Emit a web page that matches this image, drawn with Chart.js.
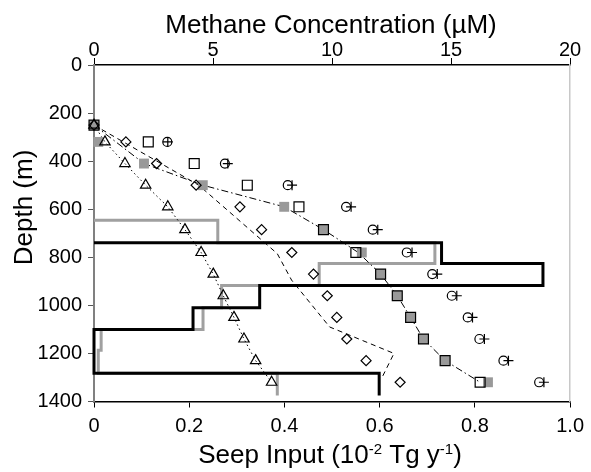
<!DOCTYPE html>
<html>
<head>
<meta charset="utf-8">
<script src="https://cdn.jsdelivr.net/npm/chart.js@4/dist/chart.umd.min.js"></script>
<style>
  html, body { margin: 0; padding: 0; background: #fff; }
</style>
</head>
<body>
<canvas id="myChart" width="591" height="472"></canvas>
<script>
// sample depths (m) shared by all profile series
const depths = [250, 320, 410, 500, 590, 685, 780, 870, 960, 1050, 1140, 1230, 1320];

// methane concentration profiles (uM)
const triangleConc   = [0, 0.46, 1.30, 2.17, 3.10, 3.82, 4.50, 5.01, 5.43, 5.88, 6.30, 6.79, 7.46];
const diamondConc    = [0, 1.34, 2.63, 4.29, 6.13, 7.04, 8.31, 9.22, 9.80, 10.20, 10.62, 11.43, 12.86];
const openSquareConc = [0, 2.28, 4.21, 6.44, 8.61, 9.64, 11.00, 12.04, 12.74, 13.30, 13.84, 14.75, 16.22];
const greySquareConc = [0, 0.18, 2.10, 4.57, 7.99, 9.64, 11.25, 12.04, 12.74, 13.30, 13.84, 14.75, 16.55];
const circleConc     = [null, 3.08, 5.50, 8.14, 10.59, 11.71, 13.14, 14.21, 15.03, 15.70, 16.19, 17.20, 18.70];
const plusConc       = [null, 3.10, 5.62, 8.32, 10.80, 11.92, 13.36, 14.42, 15.24, 15.90, 16.40, 17.41, 18.90];

// model curves
const dashedDepth = [250, 500, 785, 895, 1090, 1200, 1300];
const dashedConc  = [0, 4.4, 7.7, 8.3, 9.9, 12.6, 12.1];
const dashDotDepth = [250, 410, 500, 590, 685, 780, 870, 960, 1050, 1140, 1230, 1320];
const dashDotConc  = [0, 2.10, 4.57, 7.99, 9.64, 11.10, 12.04, 12.74, 13.30, 13.84, 14.75, 16.22];

// seep input steps (1e-2 Tg/yr)
const blackStepDepth = [740, 740, 826, 826, 917, 917, 1010, 1010, 1100, 1100, 1282, 1282, 1375];
const blackStepSeep  = [0, 0.73, 0.73, 0.943, 0.943, 0.348, 0.348, 0.208, 0.208, 0, 0, 0.599, 0.599];
const greyStepDepth = [646, 646, 740, 740, 826, 826, 917, 917, 1010, 1010, 1100, 1100, 1187, 1187, 1282, 1282, 1375];
const greyStepSeep  = [0, 0.26, 0.26, 0.716, 0.716, 0.473, 0.473, 0.268, 0.268, 0.229, 0.229, 0.015, 0.015, 0.009, 0.009, 0.385, 0.385];

// tick labels
const depthTicks = ['0', '200', '400', '600', '800', '1000', '1200', '1400'];
const concTicks = ['0', '5', '10', '15', '20'];
const seepTicks = ['0', '0.2', '0.4', '0.6', '0.8', '1.0'];

const FONT = '"Liberation Sans", Arial, sans-serif';

const pts = (xs, ys) => xs.map((x, i) => ({ x, y: ys[i] })).filter(p => p.x !== null);

const markers = (label, conc, style, extra) => Object.assign({
  label,
  data: pts(conc, depths),
  xAxisID: 'x',
  yAxisID: 'y',
  pointStyle: style,
  showLine: false,
  clip: false,
  pointBorderColor: '#000',
  pointBackgroundColor: 'rgba(0,0,0,0)',
  pointBorderWidth: 1.2
}, extra);

const curve = (label, conc, d, dash, extra) => Object.assign({
  label,
  data: pts(conc, d),
  xAxisID: 'x',
  yAxisID: 'y',
  showLine: true,
  pointRadius: 0,
  borderColor: '#000',
  borderWidth: 1,
  borderDash: dash,
  clip: false,
  order: 6
}, extra);

const titles = {
  id: 'titles',
  afterDraw(chart) {
    const ctx = chart.ctx;
    ctx.save();
    ctx.fillStyle = '#000';
    ctx.textBaseline = 'alphabetic';

    ctx.font = '26px ' + FONT;
    ctx.textAlign = 'center';
    ctx.fillText('Methane Concentration (\u00b5M)', 331, 33);

    ctx.save();
    ctx.translate(32, 207.5);
    ctx.rotate(-Math.PI / 2);
    ctx.fillText('Depth (m)', 0, 0);
    ctx.restore();

    // bottom title with superscripts
    const parts = [
      ['Seep Input (10', 26, 0], ['-2', 15, -9], [' Tg y', 26, 0], ['-1', 15, -9], [')', 26, 0]
    ];
    let total = 0;
    parts.forEach(p => { ctx.font = p[1] + 'px ' + FONT; p.push(ctx.measureText(p[0]).width); total += p[3]; });
    let x = 330 - total / 2;
    ctx.textAlign = 'left';
    parts.forEach(p => {
      ctx.font = p[1] + 'px ' + FONT;
      ctx.fillText(p[0], x, 463 + p[2]);
      x += p[3];
    });
    ctx.restore();
  }
};

const chart = new Chart(document.getElementById('myChart').getContext('2d'), {
  type: 'scatter',
  data: {
    datasets: [
      markers('plus', plusConc, 'cross', { pointRadius: 5, order: 1 }),
      markers('circles', circleConc, 'circle', { pointRadius: 4.5, order: 2 }),
      markers('diamonds', diamondConc, 'rectRot', { pointRadius: 5, order: 1 }),
      markers('triangles', triangleConc, 'triangle', { pointRadius: 6, order: 2 }),
      markers('open squares', openSquareConc, 'rect', { pointRadius: 7, order: 3 }),
      markers('grey squares', greySquareConc, 'rect', {
        pointRadius: 7, order: 4, pointBackgroundColor: '#999999', pointBorderWidth: 0
      }),
      curve('triangle line', triangleConc, depths, [1.5, 3]),
      curve('dashed line', dashedConc, dashedDepth, [5, 4]),
      curve('dash-dot line', dashDotConc, dashDotDepth, [7, 3, 1.5, 3]),
      {
        label: 'seep black',
        data: pts(blackStepSeep, blackStepDepth),
        xAxisID: 'xs', yAxisID: 'y',
        showLine: true, pointRadius: 0,
        borderColor: '#000', borderWidth: 3,
        borderJoinStyle: 'miter', clip: false, order: 7
      },
      {
        label: 'seep grey',
        data: pts(greyStepSeep, greyStepDepth),
        xAxisID: 'xs', yAxisID: 'y',
        showLine: true, pointRadius: 0,
        borderColor: '#a0a0a0', borderWidth: 3,
        borderJoinStyle: 'miter', clip: false, order: 8
      }
    ]
  },
  options: {
    responsive: false,
    devicePixelRatio: 1,
    animation: false,
    layout: { padding: { left: 0, right: 20.5, top: 0, bottom: 0 } },
    plugins: { legend: { display: false }, tooltip: { enabled: false } },
    scales: {
      x: {
        type: 'linear', position: 'top', min: 0, max: 20,
        ticks: {
          stepSize: 5, color: '#000', padding: -4,
          font: { family: FONT, size: 20 },
          callback: (v, i) => concTicks[i]
        },
        grid: { drawOnChartArea: false, tickLength: 7, color: '#000' },
        border: { color: '#000', width: 1.5 },
        afterFit: s => { s.height = 65; }
      },
      xs: {
        type: 'linear', position: 'bottom', min: 0, max: 1,
        ticks: {
          stepSize: 0.2, color: '#000', padding: 7,
          font: { family: FONT, size: 20 },
          callback: (v, i) => seepTicks[i]
        },
        grid: { drawOnChartArea: false, tickLength: 6, color: '#000' },
        border: { color: '#000', width: 1.5 },
        afterFit: s => { s.height = 70.5; }
      },
      y: {
        type: 'linear', position: 'left', reverse: true, min: 0, max: 1400,
        ticks: {
          stepSize: 200, color: '#000', padding: 6,
          font: { family: FONT, size: 20 },
          callback: v => depthTicks[Math.round(v / 200)]
        },
        grid: { drawOnChartArea: false, tickLength: 6, color: '#555' },
        border: { color: '#808080', width: 2 },
        afterFit: s => { s.width = 94; }
      },
      yr: {
        type: 'linear', position: 'right', min: 0, max: 1,
        ticks: { display: false },
        grid: { display: false, drawTicks: false },
        border: { color: '#c8c8c8', width: 1.5 },
        afterFit: s => { s.width = 0; }
      }
    }
  },
  plugins: [titles]
});
</script>
</body>
</html>
